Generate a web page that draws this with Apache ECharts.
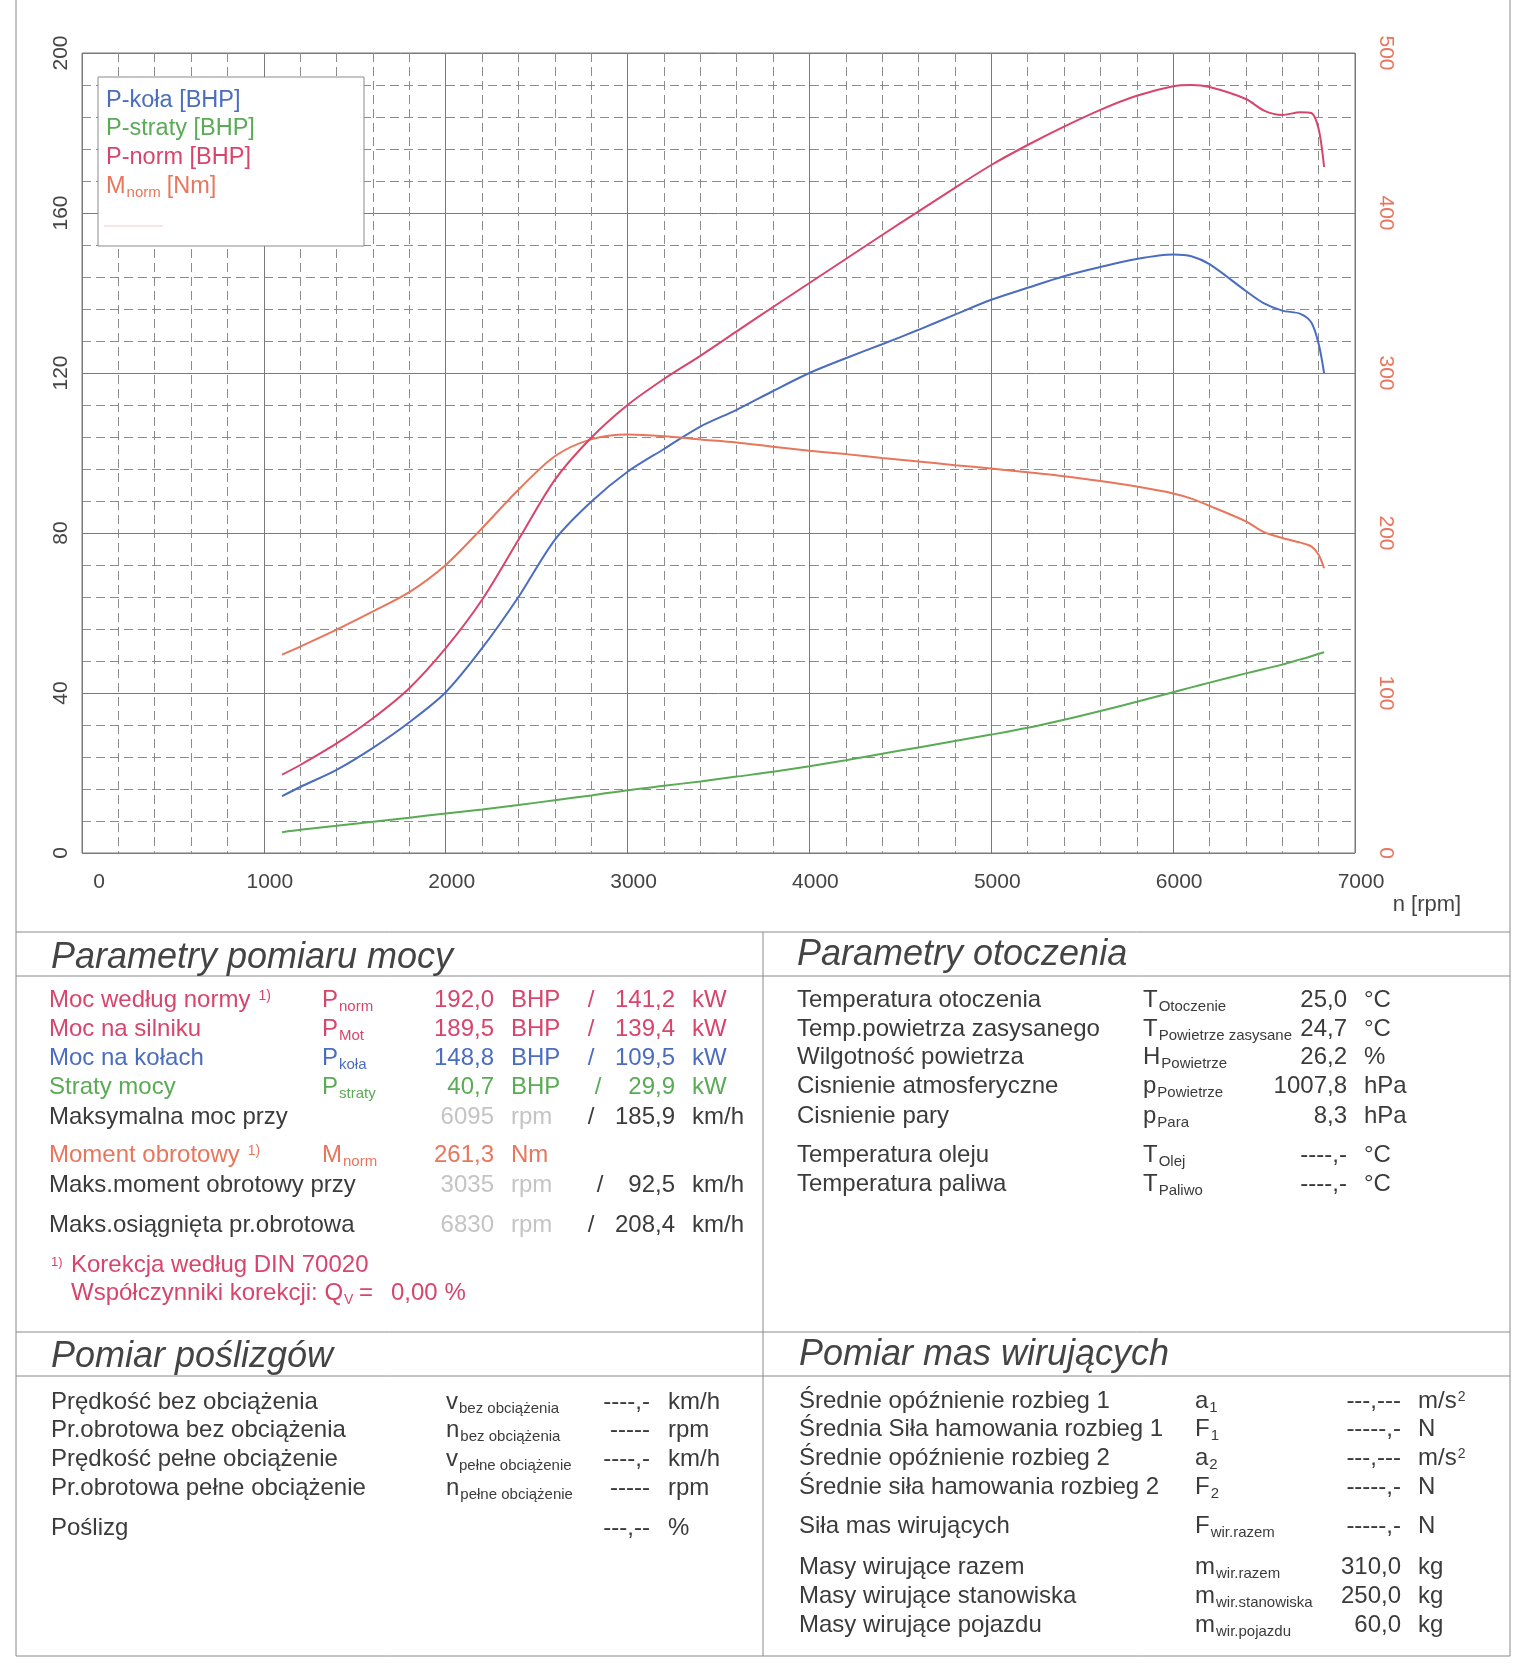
<!DOCTYPE html>
<html><head><meta charset="utf-8">
<script src="https://cdn.jsdelivr.net/npm/echarts@6/dist/echarts.min.js"></script>
<style>html,body{margin:0;padding:0;background:#fff}#c{width:1532px;height:1680px}</style>
</head><body><div id="c"></div><script>
// ---- data read from the dyno sheet ----
const rpm     = [1100,1200,1400,1600,1800,2000,2200,2400,2600,2800,3000,3200,3400,3600,3800,4000,4200,4400,4600,4800,5000,5200,5400,5600,5800,6000,6100,6200,6400,6500,6600,6700,6760,6800,6830];
const pKola   = [14.2,16.5,20.8,26.3,32.7,40.2,51.2,64.0,78.3,87.8,95.3,101.0,106.6,110.8,115.5,120.0,123.7,127.2,130.8,134.6,138.3,141.3,144.2,146.5,148.5,149.6,149.2,147.2,140.5,137.4,135.6,134.8,132.6,127.3,120.0];
const pStraty = [5.2,5.8,6.8,7.8,8.8,9.9,10.9,12.0,13.2,14.4,15.7,16.8,17.9,19.1,20.3,21.7,23.2,24.8,26.4,28.0,29.6,31.3,33.3,35.5,37.8,40.2,41.4,42.6,44.9,46.0,47.1,48.4,49.2,49.8,50.2];
const pNorm   = [19.6,22.0,27.4,33.7,41.2,51.2,63.3,78.3,93.3,103.8,112.0,118.5,124.3,130.4,136.5,142.5,148.5,154.5,160.4,166.3,172.0,177.0,181.6,185.8,189.3,191.7,192.0,191.5,188.5,185.6,184.5,185.2,185.0,181.0,171.5];
const mNorm   = [124,129,139.6,151,163,180,203,227,248,258.5,261.5,260.5,258.5,256.6,253.9,251.4,249.3,246.9,244.7,242.4,240.3,237.9,235.5,232.5,229,224.7,221.5,217,207.3,200.5,196.9,194,191.6,186.4,178];
const xTicks     = [0,1000,2000,3000,4000,5000,6000,7000];
const leftTicks  = [0,40,80,120,160,200];
const rightTicks = [0,100,200,300,400,500];
const legendNames = ['P-koła [BHP]','P-straty [BHP]','P-norm [BHP]'];

const BLUE='#4b6dbf', GREEN='#5aab55', PINK='#d8456c', CORAL='#e8765c', DARK='#3b3b3b', LGRAY='#c4c4c4';
const FF='"Liberation Sans", Arial, Helvetica, sans-serif';
const FS=24;

// ---- text helpers ----
const ctx=document.createElement('canvas').getContext('2d');
function tw(t,size,italic){ctx.font=(italic?'italic ':'')+size+'px '+FF;return ctx.measureText(t).width;}
const G=[];
function txt(x,y,t,o){o=o||{};G.push({type:'text',x:x,y:y,silent:true,z:10,style:{text:t,font:(o.italic?'italic ':'')+(o.size||FS)+'px '+FF,fill:o.color||DARK,textAlign:o.align||'left',textVerticalAlign:'middle'}});}
function sym(x,y,main,sub,color){txt(x,y,main,{color:color});if(sub)txt(x+tw(main,FS)+1,y+7,sub,{color:color,size:15});}
function labelSup(x,y,t,sup,color){txt(x,y,t,{color:color});if(sup)txt(x+tw(t,FS)+8,y-4,sup,{color:color,size:14});}
function hline(x1,x2,y){G.push({type:'line',silent:true,shape:{x1:x1,y1:y,x2:x2,y2:y},style:{stroke:'#8a8a8a',lineWidth:1}});}
function vline(x,y1,y2){G.push({type:'line',silent:true,shape:{x1:x,y1:y1,x2:x,y2:y2},style:{stroke:'#8a8a8a',lineWidth:1}});}

// frame lines
vline(16,0,1656); vline(1510,0,1656); hline(16,1510,1656);
hline(16,1510,932); hline(16,1510,976); hline(16,1510,1332); hline(16,1510,1376);
vline(763,932,1656);

// legend box
const LS=23.5;
G.push({type:'rect',silent:true,z:5,shape:{x:98,y:77,width:266,height:169},style:{fill:'#fff',stroke:'#8a8a8a',lineWidth:1}});
txt(106,101,legendNames[0],{color:BLUE,size:LS});
txt(106,129,legendNames[1],{color:GREEN,size:LS});
txt(106,158,legendNames[2],{color:PINK,size:LS});
txt(106,187,'M',{color:CORAL,size:LS}); txt(106+tw('M',LS)+1,193,'norm',{color:CORAL,size:15});
txt(106+tw('M',LS)+2+tw('norm',15)+5,187,'[Nm]',{color:CORAL,size:LS});
G.push({type:'line',silent:true,z:6,shape:{x1:104,y1:226,x2:163,y2:226},style:{stroke:'#f2cccc',lineWidth:1}});
txt(1427,905,'n [rpm]',{align:'center',size:22,color:'#444'});

// headers
txt(51,958,'Parametry pomiaru mocy',{italic:true,size:36,color:'#444'});
txt(797,955,'Parametry otoczenia',{italic:true,size:36,color:'#444'});
txt(51,1357,'Pomiar poślizgów',{italic:true,size:36,color:'#444'});
txt(799,1355,'Pomiar mas wirujących',{italic:true,size:36,color:'#444'});

// left table
const powerRows=[
 [1000,'Moc według normy','1)','P','norm','192,0','BHP','141,2','kW',PINK],
 [1029,'Moc na silniku','','P','Mot','189,5','BHP','139,4','kW',PINK],
 [1058,'Moc na kołach','','P','koła','148,8','BHP','109,5','kW',BLUE],
 [1087,'Straty mocy','','P','straty','40,7','BHP','29,9','kW',GREEN]];
powerRows.forEach(function(r){
  labelSup(49,r[0],r[1],r[2],r[9]); sym(322,r[0],r[3],r[4],r[9]);
  txt(494,r[0],r[5],{align:'right',color:r[9]}); txt(511,r[0],r[6],{color:r[9]});
  txt(r[7].length<5?598:591,r[0],'/',{align:'center',color:r[9]});
  txt(675,r[0],r[7],{align:'right',color:r[9]}); txt(692,r[0],r[8],{color:r[9]});
});
const speedRows=[[1117,'Maksymalna moc przy','6095','185,9',591],[1185,'Maks.moment obrotowy przy','3035','92,5',600],[1225,'Maks.osiągnięta pr.obrotowa','6830','208,4',591]];
speedRows.forEach(function(r){
  txt(49,r[0],r[1]); txt(494,r[0],r[2],{align:'right',color:LGRAY}); txt(511,r[0],'rpm',{color:LGRAY});
  txt(r[4],r[0],'/',{align:'center'}); txt(675,r[0],r[3],{align:'right'}); txt(692,r[0],'km/h');
});
labelSup(49,1155,'Moment obrotowy','1)',CORAL); sym(322,1155,'M','norm',CORAL);
txt(494,1155,'261,3',{align:'right',color:CORAL}); txt(511,1155,'Nm',{color:CORAL});
txt(51,1262,'1)',{size:13,color:PINK}); txt(71,1265,'Korekcja według DIN 70020',{size:FS,color:PINK});
txt(71,1293,'Współczynniki korekcji: Q',{size:FS,color:PINK});
(function(){const x=71+tw('Współczynniki korekcji: Q',FS);txt(x+1,1300,'V',{size:14,color:PINK});txt(x+16,1293,'=',{size:FS,color:PINK});txt(391,1293,'0,00 %',{size:FS,color:PINK});})();

// right top table
const envRows=[
 [1000,'Temperatura otoczenia','T','Otoczenie','25,0','°C'],
 [1029,'Temp.powietrza zasysanego','T','Powietrze zasysane','24,7','°C'],
 [1057,'Wilgotność powietrza','H','Powietrze','26,2','%'],
 [1086,'Cisnienie atmosferyczne','p','Powietrze','1007,8','hPa'],
 [1116,'Cisnienie pary','p','Para','8,3','hPa'],
 [1155,'Temperatura oleju','T','Olej','----,-','°C'],
 [1184,'Temperatura paliwa','T','Paliwo','----,-','°C']];
envRows.forEach(function(r){txt(797,r[0],r[1]);sym(1143,r[0],r[2],r[3],DARK);txt(1347,r[0],r[4],{align:'right'});txt(1364,r[0],r[5]);});

// bottom left table
const slipRows=[
 [1402,'Prędkość bez obciążenia','v','bez obciążenia','----,-','km/h'],
 [1430,'Pr.obrotowa bez obciążenia','n','bez obciążenia','-----','rpm'],
 [1459,'Prędkość pełne obciążenie','v','pełne obciążenie','----,-','km/h'],
 [1488,'Pr.obrotowa pełne obciążenie','n','pełne obciążenie','-----','rpm'],
 [1528,'Poślizg','','','---,--','%']];
slipRows.forEach(function(r){txt(51,r[0],r[1]);if(r[2])sym(446,r[0],r[2],r[3],DARK);txt(650,r[0],r[4],{align:'right'});txt(668,r[0],r[5]);});

// bottom right table
const massRows=[
 [1401,'Średnie opóźnienie rozbieg 1','a','1','---,---','m/s'],
 [1429,'Średnia Siła hamowania rozbieg 1','F','1','-----,-','N'],
 [1458,'Średnie opóźnienie rozbieg 2','a','2','---,---','m/s'],
 [1487,'Średnie siła hamowania rozbieg 2','F','2','-----,-','N'],
 [1526,'Siła mas wirujących','F','wir.razem','-----,-','N'],
 [1567,'Masy wirujące razem','m','wir.razem','310,0','kg'],
 [1596,'Masy wirujące stanowiska','m','wir.stanowiska','250,0','kg'],
 [1625,'Masy wirujące pojazdu','m','wir.pojazdu','60,0','kg']];
massRows.forEach(function(r){txt(799,r[0],r[1]);sym(1195,r[0],r[2],r[3],DARK);txt(1401,r[0],r[4],{align:'right'});txt(1418,r[0],r[5]);
  if(r[5]==='m/s')txt(1418+tw('m/s',FS)+1,r[0]-4,'2',{size:14});});

// ---- chart ----
const chart=echarts.init(document.getElementById('c'),null,{renderer:'canvas'});
const pairs=function(arr){return rpm.map(function(r,i){return [r,arr[i]];});};
const mk=function(name,arr,color,yi){return {name:name,type:'line',yAxisIndex:yi,data:pairs(arr),showSymbol:false,smooth:0.3,lineStyle:{color:color,width:2},itemStyle:{color:color},z:3};};
chart.setOption({
  animation:false,
  backgroundColor:'#fff',
  textStyle:{fontFamily:FF},
  grid:{left:82,top:53,width:1273,height:800,show:true,borderColor:'#7a7a7a',borderWidth:1,backgroundColor:'transparent'},
  xAxis:{type:'value',min:xTicks[0],max:xTicks[xTicks.length-1],interval:xTicks[1]-xTicks[0],
    axisLine:{show:false},axisTick:{show:false},
    axisLabel:{fontSize:21,color:'#444',margin:19,fontFamily:FF,padding:[0,0,0,12],
      formatter:function(v){return v===0?'{z|0}':String(v);},rich:{z:{fontSize:21,color:'#444',fontFamily:FF,padding:[0,0,0,22]}}},
    splitLine:{show:true,lineStyle:{color:'#7a7a7a',width:1}},
    minorTick:{show:false,splitNumber:5},
    minorSplitLine:{show:true,lineStyle:{color:'#8c8c8c',width:1,type:[9,5]}}},
  yAxis:[
   {type:'value',position:'left',min:leftTicks[0],max:leftTicks[leftTicks.length-1],interval:leftTicks[1]-leftTicks[0],
    axisLine:{show:false},axisTick:{show:false},
    axisLabel:{rotate:90,fontSize:21,color:'#444',margin:10,fontFamily:FF},
    splitLine:{show:true,lineStyle:{color:'#7a7a7a',width:1}},
    minorTick:{show:false,splitNumber:5},
    minorSplitLine:{show:true,lineStyle:{color:'#8c8c8c',width:1,type:[9,5]}}},
   {type:'value',position:'right',min:rightTicks[0],max:rightTicks[rightTicks.length-1],interval:rightTicks[1]-rightTicks[0],
    axisLine:{show:false},axisTick:{show:false},splitLine:{show:false},
    axisLabel:{rotate:-90,fontSize:21,color:CORAL,margin:20,fontFamily:FF}}],
  series:[mk('P-straty',pStraty,GREEN,0),mk('P-koła',pKola,BLUE,0),mk('M-norm',mNorm,CORAL,1),mk('P-norm',pNorm,PINK,0)],
  graphic:G
});
</script></body></html>
